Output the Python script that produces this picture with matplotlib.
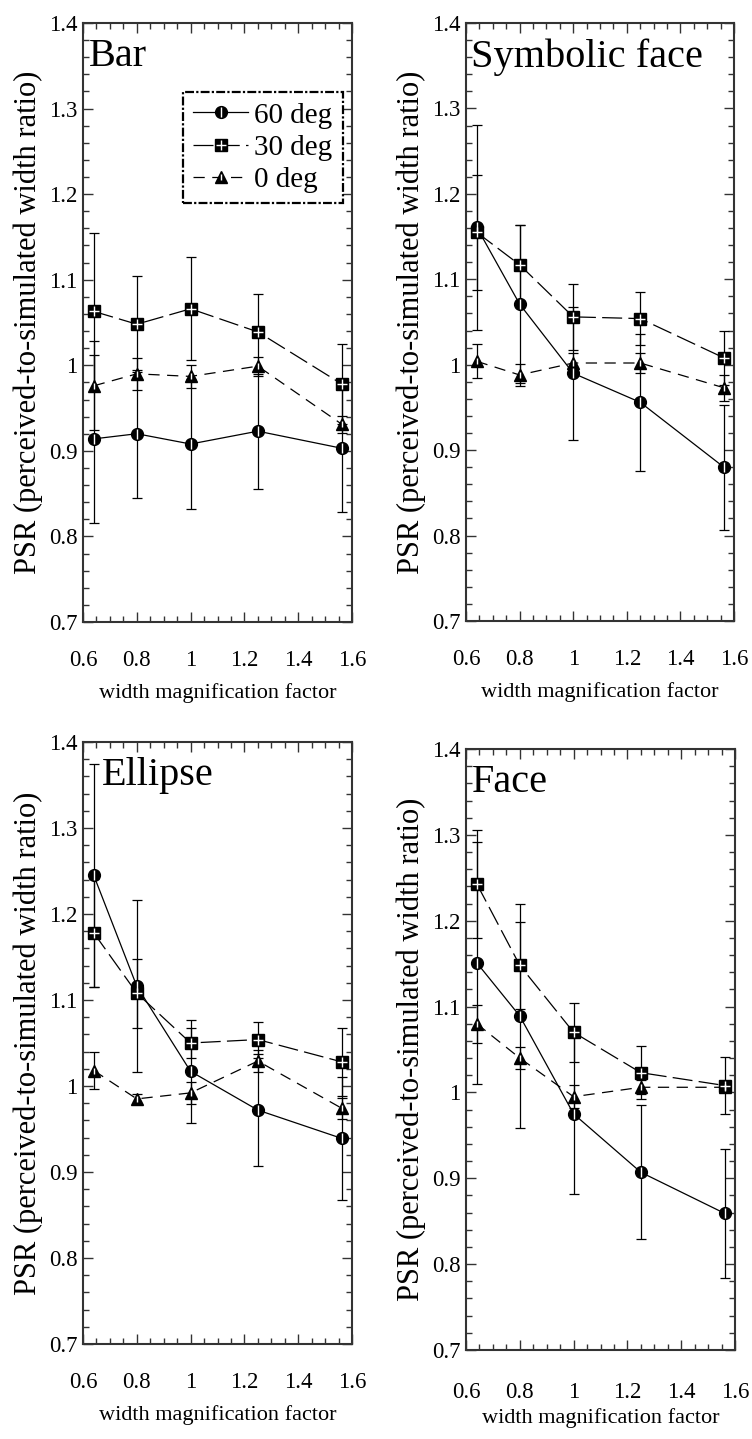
import matplotlib
matplotlib.use("Agg")
import matplotlib.pyplot as plt
from matplotlib.ticker import MultipleLocator, FormatStrFormatter
from matplotlib.legend_handler import HandlerTuple

plt.rcParams['font.family'] = ['Liberation Serif', 'DejaVu Serif']

# ---- data ----
x_vals = [0.64, 0.8, 1.0, 1.25, 1.5625]
series_labels = ["60 deg", "30 deg", "0 deg"]
panel_titles = ["Bar", "Symbolic face", "Ellipse", "Face"]

bar_60 = [0.914, 0.920, 0.908, 0.923, 0.903]
bar_60_err = [0.098, 0.075, 0.076, 0.067, 0.075]
bar_30 = [1.063, 1.048, 1.066, 1.039, 0.978]
bar_30_err = [0.092, 0.056, 0.060, 0.044, 0.047]
bar_0 = [0.976, 0.990, 0.987, 0.999, 0.931]
bar_0_err = [0.052, 0.019, 0.013, 0.011, 0.010]

sym_60 = [1.161, 1.071, 0.990, 0.956, 0.880]
sym_60_err = [0.120, 0.092, 0.078, 0.080, 0.073]
sym_30 = [1.155, 1.117, 1.056, 1.054, 1.008]
sym_30_err = [0.067, 0.046, 0.039, 0.031, 0.032]
sym_0 = [1.004, 0.988, 1.002, 1.002, 0.973]
sym_0_err = [0.020, 0.013, 0.012, 0.012, 0.015]

ell_60 = [1.245, 1.116, 1.017, 0.972, 0.939]
ell_60_err = [0.130, 0.100, 0.060, 0.065, 0.071]
ell_30 = [1.178, 1.108, 1.050, 1.054, 1.028]
ell_30_err = [0.063, 0.040, 0.017, 0.021, 0.040]
ell_0 = [1.018, 0.985, 0.992, 1.029, 0.974]
ell_0_err = [0.022, 0.006, 0.013, 0.013, 0.012]

face_60 = [1.151, 1.089, 0.975, 0.907, 0.859]
face_60_err = [0.141, 0.131, 0.093, 0.078, 0.075]
face_30 = [1.243, 1.148, 1.070, 1.023, 1.008]
face_30_err = [0.063, 0.051, 0.034, 0.031, 0.033]
face_0 = [1.080, 1.040, 0.995, 1.006, 1.006]
face_0_err = [0.022, 0.013, 0.0135, 0.008, 0.005]

panels = [
    (bar_60, bar_60_err, bar_30, bar_30_err, bar_0, bar_0_err),
    (sym_60, sym_60_err, sym_30, sym_30_err, sym_0, sym_0_err),
    (ell_60, ell_60_err, ell_30, ell_30_err, ell_0, ell_0_err),
    (face_60, face_60_err, face_30, face_30_err, face_0, face_0_err),
]

# ---- layout (pixel boxes: left, right, top, bottom) ----
W, H = 752, 1439
boxes = [(83, 352, 23, 622), (466, 734, 23, 621),
         (83, 352, 742, 1344), (466, 735, 749, 1350)]
xtick_pads = [20, 20, 20, 23]
xlabel_pads = [9, 9, 9, 4]

fig = plt.figure(figsize=(W / 100, H / 100), dpi=100)

styles = [
    dict(marker='o', ms=8.5, ls='-', over='|', over_ms=7),
    dict(marker='s', ms=9, ls=(0, (16, 5)), over='+', over_ms=7),
    dict(marker='^', ms=8.5, ls=(0, (9, 6)), over='|', over_ms=5),
]

for i, (l, r, t, b) in enumerate(boxes):
    ax = fig.add_axes([l / W, 1 - b / H, (r - l) / W, (b - t) / H])
    d = panels[i]
    handles = []
    for k in range(3):
        y = d[2 * k]
        e = d[2 * k + 1]
        st = styles[k]
        ax.errorbar(x_vals, y, yerr=e, fmt='none', ecolor='black',
                    elinewidth=0.9, capsize=3.3, capthick=0.9, zorder=2)
        ln, = ax.plot(x_vals, y, color='black', lw=0.9, ls=st['ls'],
                      marker=st['marker'], ms=st['ms'], mfc='black',
                      mec='black', zorder=3)
        ov, = ax.plot(x_vals, y, ls='none', marker=st['over'],
                      ms=st['over_ms'], mec='white', mew=1.0, zorder=4)
        handles.append((ln, ov))

    ax.set_xlim(0.6, 1.6)
    ax.set_ylim(0.7, 1.4)
    ax.xaxis.set_major_locator(MultipleLocator(0.2))
    ax.xaxis.set_minor_locator(MultipleLocator(0.05))
    ax.yaxis.set_major_locator(MultipleLocator(0.1))
    ax.yaxis.set_minor_locator(MultipleLocator(0.02))
    ax.xaxis.set_major_formatter(FormatStrFormatter('%g'))
    ax.yaxis.set_major_formatter(FormatStrFormatter('%g'))
    ax.tick_params(which='both', direction='in', top=True, right=True,
                   color='#333333', width=1.0)
    ax.tick_params(which='major', length=7)
    ax.tick_params(which='minor', length=4)
    ax.tick_params(axis='x', which='major', pad=xtick_pads[i], labelsize=16.5)
    ax.tick_params(axis='y', which='major', pad=4, labelsize=16.5)
    for sp in ax.spines.values():
        sp.set_color('#333333')
        sp.set_linewidth(1.5)

    ax.set_xlabel("width magnification factor", fontsize=16,
                  labelpad=xlabel_pads[i])
    ax.set_ylabel("PSR (perceived-to-simulated width ratio)", fontsize=22,
                  labelpad=4)
    tx = 0.02 if i != 2 else 0.07
    ax.text(tx, 0.975, panel_titles[i], transform=ax.transAxes,
            fontsize=29, va='top', ha='left')

    if i == 0:
        leg = ax.legend(handles, series_labels, loc='upper right',
                        bbox_to_anchor=(0.965, 0.885), borderaxespad=0,
                        fontsize=21,
                        handler_map={tuple: HandlerTuple(ndivide=1)},
                        numpoints=1, handlelength=1.9, handletextpad=0.2,
                        borderpad=0.35, labelspacing=0.2, fancybox=False,
                        framealpha=1, edgecolor='black')
        fr = leg.get_frame()
        fr.set_linestyle((0, (4, 1, 1, 1)))
        fr.set_linewidth(1.6)

fig.savefig("out.png", dpi=100)
